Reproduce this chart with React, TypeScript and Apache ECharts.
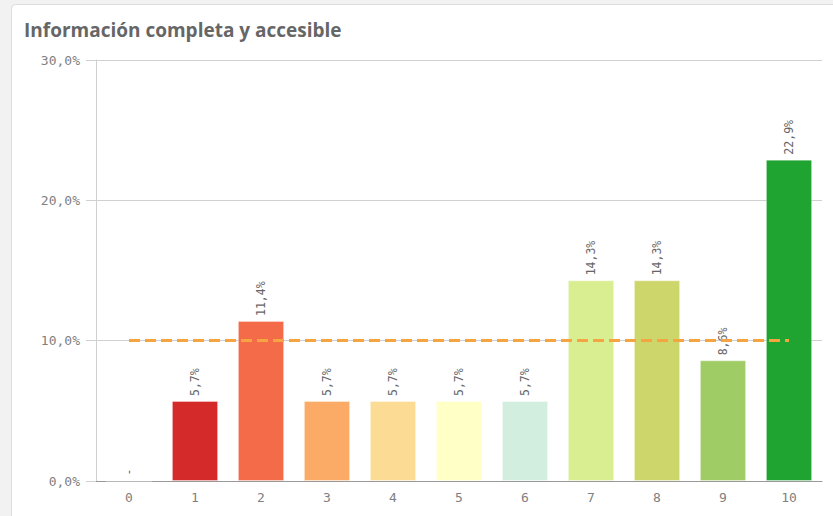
import React, { useEffect, useRef } from "react";
import * as echarts from "echarts";

const categories = ["0", "1", "2", "3", "4", "5", "6", "7", "8", "9", "10"];
const values = [0, 5.7, 11.4, 5.7, 5.7, 5.7, 5.7, 14.3, 14.3, 8.6, 22.9];
const barColors = [
  "#cccccc",
  "#d52a2a",
  "#f36b49",
  "#fbab66",
  "#fcdc94",
  "#ffffc6",
  "#d2eede",
  "#d9ed91",
  "#cdd66a",
  "#a0cc65",
  "#1fa431",
];
const referenceValue = 10;
const yTicks = [0, 10, 20, 30];

const fmt = (v: number) => v.toFixed(1).replace(".", ",") + "%";

export default function App() {
  const ref = useRef<HTMLDivElement>(null);
  useEffect(() => {
    if (!ref.current) return;
    const chart = echarts.init(ref.current, undefined, { renderer: "svg" });
    const mono = "'DejaVu Sans Mono', monospace";
    chart.setOption({
      animation: false,
      backgroundColor: "#f2f2f2",
      graphic: [
        {
          type: "rect",
          shape: { x: 11.5, y: 4.5, width: 840, height: 530, r: 4 },
          style: { fill: "#ffffff", stroke: "#dddddd", lineWidth: 1 },
          z: -10,
          silent: true,
        },
        {
          type: "text",
          left: 24,
          top: 20,
          style: {
            text: "Información completa y accesible",
            font: "bold 19px 'Open Sans', sans-serif",
            fill: "#666666",
          },
        },
      ],
      grid: { left: 96, right: 11, top: 60, bottom: 35 },
      xAxis: {
        type: "category",
        data: categories,
        axisLine: { show: true, lineStyle: { color: "#999999", width: 1 } },
        axisTick: { show: false },
        axisLabel: {
          color: "#808080",
          fontFamily: mono,
          fontSize: 13,
          margin: 10,
        },
      },
      yAxis: {
        type: "value",
        min: 0,
        max: 30,
        interval: 10,
        axisLine: { show: true, lineStyle: { color: "#d0d0d0" } },
        axisTick: { show: true, length: 10, lineStyle: { color: "#d0d0d0" } },
        splitLine: { show: true, lineStyle: { color: "#d0d0d0" } },
        axisLabel: {
          color: "#808080",
          fontFamily: mono,
          fontSize: 13,
          margin: 16,
          formatter: (v: number) => (yTicks.includes(v) ? fmt(v) : ""),
        },
      },
      series: [
        {
          type: "bar",
          barWidth: "70%",
          data: values.map((v, i) => ({
            value: v,
            itemStyle: {
              color: barColors[i],
              borderColor: "rgba(255,255,255,0.35)",
              borderWidth: 1,
            },
          })),
          label: {
            show: true,
            position: "top",
            rotate: 90,
            align: "left",
            verticalAlign: "middle",
            distance: 5,
            color: "#666666",
            fontFamily: mono,
            fontSize: 11.5,
            formatter: (p: any) => (p.value === 0 ? "-" : fmt(p.value)),
          },
          markLine: {
            silent: true,
            symbol: "none",
            label: { show: false },
            lineStyle: { color: "#f5a442", width: 3, type: [11, 5] },
            data: [
              [
                { coord: [0, referenceValue] },
                { coord: [10, referenceValue] },
              ],
            ],
          },
        },
      ],
    });
    return () => chart.dispose();
  }, []);
  return (
    <div
      ref={ref}
      style={{ position: "fixed", left: 0, top: 0, width: 833, height: 516 }}
    />
  );
}
